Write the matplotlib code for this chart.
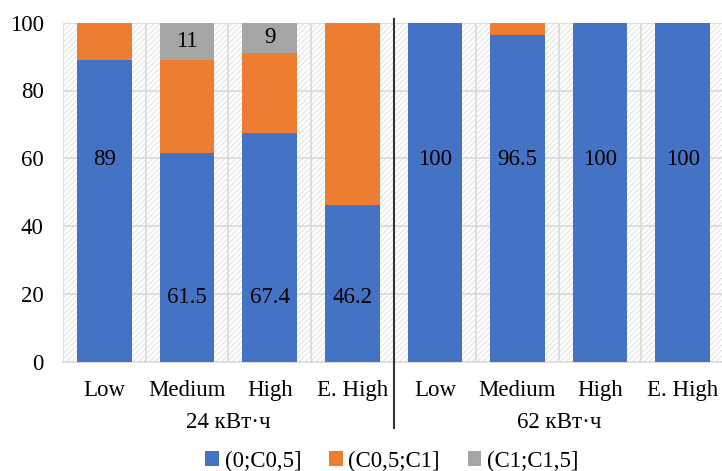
import matplotlib
matplotlib.use("Agg")
import matplotlib.pyplot as plt
from matplotlib.patches import Rectangle
import numpy as np

categories = ["Low", "Medium", "High", "E. High", "Low", "Medium", "High", "E. High"]
groups = ["24 кВт·ч", "62 кВт·ч"]
s1 = [89, 61.5, 67.4, 46.2, 100, 96.5, 100, 100]
s2 = [11, 27.5, 23.6, 53.8, 0, 3.5, 0, 0]
s3 = [0, 11, 9, 0, 0, 0, 0, 0]
s1_label_y = [59.6, 19, 19, 19, 59.6, 59.6, 59.6, 59.6]
s1_labels = ["89", "61.5", "67.4", "46.2", "100", "96.5", "100", "100"]
s3_labels = ["", "11", "9", "", "", "", "", ""]
legend_names = ["(0;C0,5]", "(C0,5;C1]", "(C1;C1,5]"]
colors = ["#4472C4", "#ED7D31", "#A5A5A5"]

plt.rcParams['font.family'] = ['Liberation Serif', 'DejaVu Serif']
plt.rcParams['hatch.color'] = '#dcdcdc'
plt.rcParams['hatch.linewidth'] = 0.6

W, H = 722, 471
fig = plt.figure(figsize=(W/100, H/100), dpi=100)
x0, x1 = 63.2, 724.0
y0, y1 = 361.7, 22.7
ph = y0 - y1
ax = fig.add_axes([x0/W, 1 - y0/H, (x1-x0)/W, ph/H])
n = len(categories)
x = np.arange(n)
ax.set_xlim(-0.5, n-0.5)
ax.set_ylim(0, 100)

# hatched background
ax.add_patch(Rectangle((-0.5, 0), n, 100, facecolor='white', edgecolor='#dcdcdc',
                       hatch='//////', linewidth=0, zorder=0))
for b in np.arange(-0.5, n+0.5, 1.0):
    ax.axvline(b, color='#d9d9d9', lw=1.2, zorder=1)
for yv in [20, 40, 60, 80, 100]:
    ax.axhline(yv, color='#d9d9d9', lw=1.2, zorder=1)

bw = 0.66
bottom2 = np.array(s1)
bottom3 = np.array(s1) + np.array(s2)
ax.bar(x, s1, bw, color=colors[0], zorder=2, label=legend_names[0])
ax.bar(x, s2, bw, bottom=bottom2, color=colors[1], zorder=2, label=legend_names[1])
ax.bar(x, s3, bw, bottom=bottom3, color=colors[2], zorder=2, label=legend_names[2])

fs = 16.5
for i in range(n):
    ax.text(x[i], s1_label_y[i], s1_labels[i], ha='center', va='center', fontsize=fs, zorder=3)
    if s3_labels[i]:
        ax.text(x[i], bottom3[i] + s3[i]/2, s3_labels[i], ha='center', va='center', fontsize=fs, zorder=3)

for s in ['top', 'right', 'left']:
    ax.spines[s].set_visible(False)
ax.spines['bottom'].set_color('#d9d9d9')
ax.spines['bottom'].set_linewidth(1.2)
ax.spines['bottom'].set_zorder(1)
ax.set_yticks([0, 20, 40, 60, 80, 100])
ax.tick_params(axis='y', length=0, labelsize=fs, pad=14)
ax.set_xticks(x)
ax.set_xticklabels(categories)
ax.tick_params(axis='x', length=0, labelsize=fs, pad=13)

# group labels
for gi, g in enumerate(groups):
    cx = gi*4 + 1.5
    ax.text(cx, -(422-y0)/ph, g, transform=ax.get_xaxis_transform(), ha='center', va='center',
            fontsize=fs)
# separator
ax.plot([3.5, 3.5], [1 + (y1-19)/ph, -(428-y0)/ph],
        transform=ax.get_xaxis_transform(), color='#333333', lw=1.5, clip_on=False, zorder=4)

handles, labs = ax.get_legend_handles_labels()
leg = fig.legend(handles, labs, loc='center', bbox_to_anchor=(392/W, 1 - 461/H), ncol=3,
                 frameon=False, fontsize=fs, handlelength=0.6, handleheight=0.6,
                 handletextpad=0.25, columnspacing=1.2)

fig.savefig("out.png", dpi=100)
